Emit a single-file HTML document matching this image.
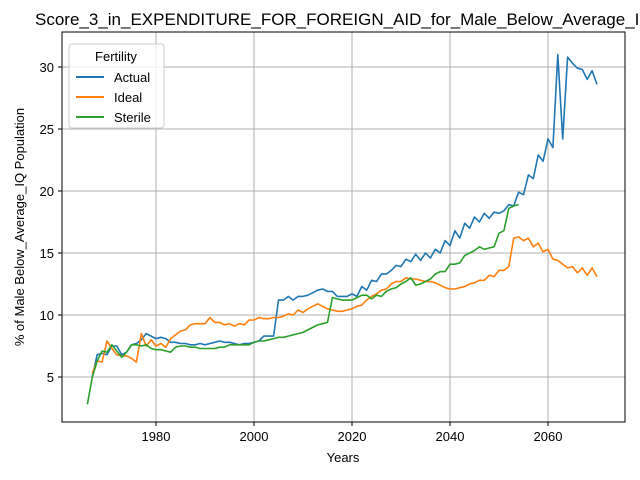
<!DOCTYPE html>
<html><head><meta charset="utf-8"><style>
body{margin:0;background:#fff;overflow:hidden;}
svg{display:block;font-family:"Liberation Sans","DejaVu Sans",sans-serif;}
</style></head><body>
<svg id="chart" width="640" height="480">
<rect x="0" y="0" width="640" height="480" fill="#fff"/>
<text x="35" y="25" font-size="17" fill="#000">Score_3_in_EXPENDITURE_FOR_FOREIGN_AID_for_Male_Below_Average_IQ</text>
<g id="grid"></g>
<g id="series"></g>
<rect x="62" y="32" width="563" height="390" fill="none" stroke="#000" stroke-width="1"/>
<g id="ticks"></g>
<text x="343" y="462" font-size="13" text-anchor="middle">Years</text>
<text transform="translate(24,227) rotate(-90)" font-size="13" text-anchor="middle">% of Male Below_Average_IQ Population</text>
<g>
<rect x="69" y="44" width="95" height="84" rx="3" fill="#fff" fill-opacity="0.8" stroke="#ccc"/>
<text x="116" y="61" font-size="13" text-anchor="middle">Fertility</text>
<g><line x1="76" x2="104" y1="77" y2="77" stroke="#1f77b4" stroke-width="2"/><text x="114" y="82" font-size="13">Actual</text></g>
<g><line x1="76" x2="104" y1="97" y2="97" stroke="#ff7f0e" stroke-width="2"/><text x="114" y="102" font-size="13">Ideal</text></g>
<g><line x1="76" x2="104" y1="117" y2="117" stroke="#2ca02c" stroke-width="2"/><text x="114" y="122" font-size="13">Sterile</text></g>
</g>
</svg>
<script>
const xTicks=[1980,2000,2020,2040,2060];
const yTicks=[5,10,15,20,25,30];
const actualStart=1967;
const actualValues=[5.0,6.8,6.9,6.8,7.5,7.5,6.8,7.0,7.6,7.7,8.0,8.5,8.3,8.1,8.2,8.1,7.8,7.8,7.7,7.7,7.6,7.6,7.7,7.6,7.7,7.8,7.9,7.8,7.8,7.7,7.6,7.7,7.7,7.8,7.9,8.3,8.3,8.3,11.2,11.2,11.5,11.2,11.5,11.5,11.6,11.8,12.0,12.1,11.9,11.9,11.5,11.5,11.5,11.7,11.5,12.3,12.0,12.8,12.7,13.3,13.3,13.6,14.0,13.9,14.5,14.3,14.9,14.4,15.0,14.6,15.3,15.0,16.0,15.6,16.8,16.2,17.4,17.0,17.9,17.5,18.2,17.8,18.3,18.2,18.4,18.9,18.8,19.9,19.7,21.3,21.0,22.9,22.4,24.2,23.5,31.0,24.2,30.8,30.3,29.9,29.8,29.0,29.7,28.6];
const idealStart=1967;
const idealValues=[5.3,6.3,6.2,7.9,7.3,6.8,6.7,6.7,6.5,6.2,8.5,7.5,8.0,7.5,7.7,7.4,8.1,8.4,8.7,8.8,9.2,9.3,9.3,9.3,9.8,9.4,9.4,9.2,9.3,9.1,9.3,9.2,9.6,9.6,9.8,9.7,9.7,9.8,9.8,9.9,10.1,10.0,10.4,10.2,10.5,10.7,10.9,10.7,10.5,10.4,10.3,10.3,10.4,10.5,10.7,10.8,11.2,11.5,11.7,12.0,12.1,12.5,12.7,12.7,13.0,12.9,12.9,12.8,12.7,12.7,12.6,12.4,12.2,12.1,12.1,12.2,12.3,12.5,12.6,12.8,12.8,13.2,13.1,13.6,13.6,13.9,16.2,16.3,16.0,16.2,15.5,15.8,15.1,15.3,14.5,14.4,14.1,13.8,13.9,13.4,13.8,13.2,13.8,13.1];
const sterileStart=1966;
const sterileValues=[2.8,5.0,6.3,7.1,7.0,7.6,7.1,6.6,7.0,7.6,7.6,7.5,7.6,7.3,7.2,7.2,7.1,7.0,7.4,7.5,7.5,7.4,7.4,7.3,7.3,7.3,7.3,7.4,7.4,7.6,7.6,7.6,7.6,7.6,7.8,7.9,7.9,8.0,8.1,8.2,8.2,8.3,8.4,8.5,8.6,8.8,9.0,9.2,9.3,9.4,11.4,11.3,11.2,11.2,11.2,11.4,11.6,11.6,11.3,11.6,11.5,11.9,12.1,12.2,12.5,12.7,13.0,12.4,12.5,12.7,12.9,13.3,13.5,13.5,14.1,14.1,14.2,14.8,15.0,15.2,15.5,15.3,15.4,15.5,16.6,16.8,18.6,18.8,18.9];

const NS='http://www.w3.org/2000/svg';
function xs(yr){return 156+(yr-1980)*4.9;}
function ys(v){return 377-(v-5)*12.4;}
const grid=document.getElementById('grid'),ticks=document.getElementById('ticks'),ser=document.getElementById('series');
function mk(tag,attrs,parent){const e=document.createElementNS(NS,tag);for(const k in attrs)e.setAttribute(k,attrs[k]);parent.appendChild(e);return e;}
xTicks.forEach(t=>{
  const x=xs(t);
  const g=mk('line',{x1:x,x2:x,y1:32,y2:422,stroke:'#b0b0b0','stroke-width':1},grid);
  
  
  mk('line',{x1:x,x2:x,y1:422,y2:426,stroke:'#000'},ticks);
  const tx=mk('text',{x:x,y:441,'font-size':13,'text-anchor':'middle'},ticks);
  tx.textContent=t;
  
  
});
yTicks.forEach(t=>{
  const y=ys(t);
  const g=mk('line',{x1:62,x2:625,y1:y,y2:y,stroke:'#b0b0b0','stroke-width':1},grid);
  
  
  mk('line',{x1:58,x2:62,y1:y,y2:y,stroke:'#000'},ticks);
  const tx=mk('text',{x:54,y:y+5,'font-size':13,'text-anchor':'end'},ticks);
  tx.textContent=t;
  
  
});
function line(start,vals,color,name){
  const pts=vals.map((v,i)=>xs(start+i).toFixed(1)+','+ys(v).toFixed(1)).join(' ');
  const p=mk('polyline',{points:pts,fill:'none',stroke:color,'stroke-width':1.6,'stroke-linejoin':'round'},ser);
  
  
}
line(actualStart,actualValues,'#1f77b4','actual-line');
line(idealStart,idealValues,'#ff7f0e','ideal-line');
line(sterileStart,sterileValues,'#2ca02c','sterile-line');
</script>
</body></html>
